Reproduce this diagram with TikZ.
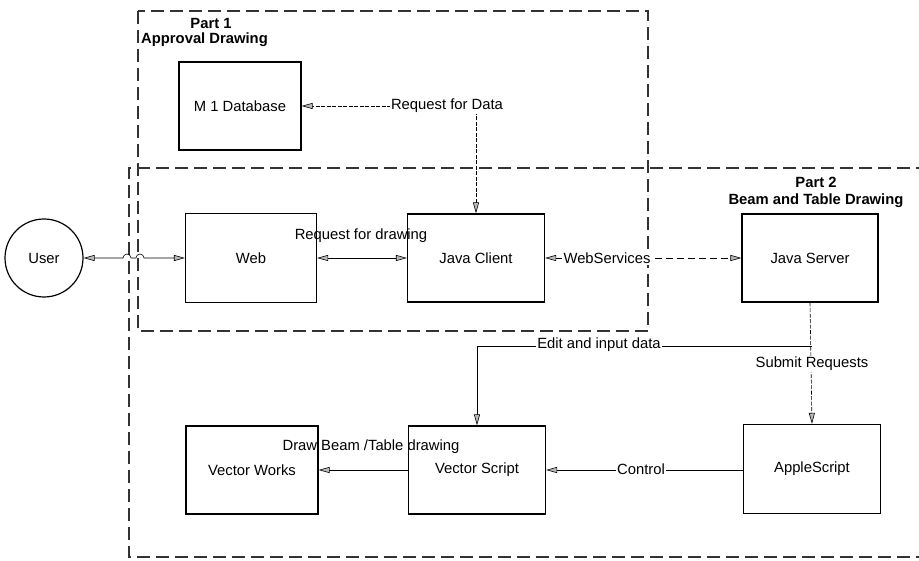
\documentclass[tikz,border=0pt]{standalone}
\usepackage{fontspec}
\setmainfont{Liberation Sans}
\usetikzlibrary{arrows.meta}
\begin{document}
\begin{tikzpicture}[x=1pt,y=-1pt,
  font=\fontsize{14.8}{17}\selectfont,
  >={Triangle[length=11pt,width=6pt,fill=gray!55]},
  box/.style={draw,line width=1.2pt,inner sep=0pt},
  frame/.style={draw=black!80,line width=1.7pt,dash pattern=on 13pt off 6pt},
  conn/.style={draw,line width=0.6pt},
  fine/.style={conn,dash pattern=on 4pt off 1.5pt},
  lbl/.style={fill=white,inner sep=1.5pt},
  ptitle/.style={font=\fontsize{14.8}{17}\selectfont\bfseries,align=center,inner sep=1pt}]
\useasboundingbox (0,0) rectangle (919,561);
% frames
\draw[frame] (138,11) rectangle (648,331);
\draw[frame] (929,168) -- (129,168) -- (129,557) -- (929,557);
% frame titles
\node[ptitle] (p1a) at (211,23) {Part 1};
\node[ptitle,anchor=west] (p1b) at (140,40) {Approval Drawing};
\node[ptitle] (p2) at (816,192) {Part 2\\Beam and Table Drawing};
% nodes
\node[box,circle,minimum size=78pt] (user) at (44,258) {User};
\node[box,minimum width=122pt,minimum height=88pt] (m1) at (240,106) {M 1 Database};
\node[box,minimum width=131pt,minimum height=89pt] (web) at (251,258) {Web};
\node[box,minimum width=137pt,minimum height=88pt] (jclient) at (476,258) {Java Client};
\node[box,minimum width=136pt,minimum height=88pt] (jserver) at (810,258) {Java Server};
\node[box,minimum width=137pt,minimum height=89pt] (apple) at (812,469) {AppleScript};
\node[box,minimum width=137pt,minimum height=88pt] (vscript) at (477,470) {Vector Script};
\node[box,minimum width=132pt,minimum height=88pt] (vworks) at (252,470) {Vector Works};
% connectors
\draw[fine,<->] (jclient.north) |- (m1.east);
\node[lbl] (lreq) at (447,106) {Request for Data};
\draw[conn,<->] (web.east) -- (jclient.west);
\node (ldraw) at (361,236) {Request for drawing};
\draw[conn,<->] (user.east) -- (123,258)
  arc[start angle=180,end angle=360,radius=4] -- (136,258)
  arc[start angle=180,end angle=360,radius=4] -- (web.west);
\draw[conn,dash pattern=on 7pt off 4pt,<->] (jclient.east) -- (jserver.west);
\node[lbl] (lws) at (607,258) {WebServices};
\draw[fine,->] (jserver.south) -- (apple.north);
\node[lbl] (lsub) at (812,364) {Submit Requests};
\coordinate (ej) at (812,346);
\draw[conn,->] (ej) -| (vscript.north);
\node[lbl] (ledit) at (599,345) {Edit and input data};
\draw[conn,->] (apple.west |- vscript.east) -- (vscript.east);
\node[lbl] (lctl) at (641,469) {Control};
\draw[conn,->] (vscript.west) -- (vworks.east);
\node (lbeam) at (371,447) {Draw Beam /Table drawing};
\end{tikzpicture}
\end{document}
